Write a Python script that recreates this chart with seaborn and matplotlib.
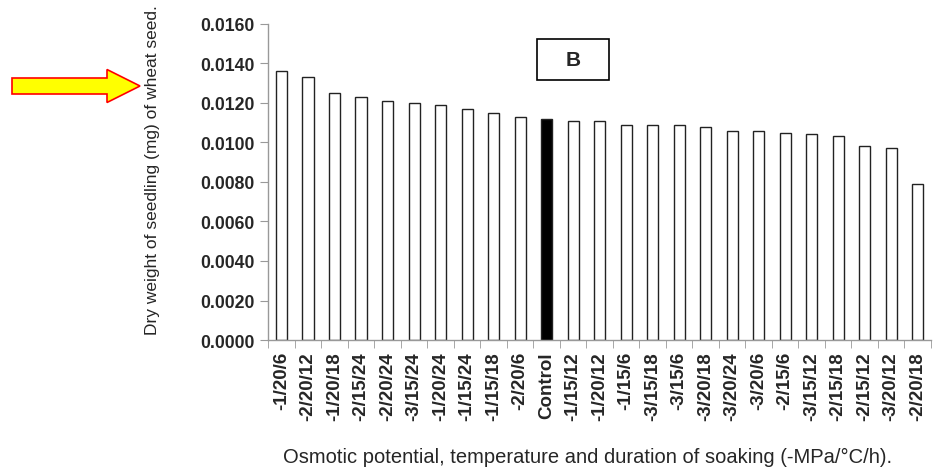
import matplotlib
matplotlib.use("Agg")
import matplotlib.pyplot as plt
import matplotlib.patches as mpatches
from matplotlib.ticker import FixedLocator
import seaborn as sns

# treatments (-MPa/°C/h) sorted by dry weight
treatments = ['-1/20/6', '-2/20/12', '-1/20/18', '-2/15/24', '-2/20/24', '-3/15/24',
              '-1/20/24', '-1/15/24', '-1/15/18', '-2/20/6', 'Control', '-1/15/12',
              '-1/20/12', '-1/15/6', '-3/15/18', '-3/15/6', '-3/20/18', '-3/20/24',
              '-3/20/6', '-2/15/6', '-3/15/12', '-2/15/18', '-2/15/12', '-3/20/12',
              '-2/20/18']
dry_weight = [0.0136, 0.0133, 0.0125, 0.0123, 0.0121, 0.0120, 0.0119, 0.0117, 0.0115,
              0.0113, 0.0112, 0.0111, 0.0111, 0.0109, 0.0109, 0.0109, 0.0108, 0.0106,
              0.0106, 0.0105, 0.0104, 0.0103, 0.0098, 0.0097, 0.0079]
yticks = [0.0, 0.002, 0.004, 0.006, 0.008, 0.010, 0.012, 0.014, 0.016]

sns.set_style("white")
plt.rcParams['font.family'] = ['Liberation Sans', 'DejaVu Sans']

colors = {t: ('black' if t == 'Control' else 'white') for t in treatments}

fig = plt.figure(figsize=(9.48, 4.77), dpi=100)
ax = fig.add_axes([0.283, 0.285, 0.699, 0.663])

sns.barplot(x=treatments, y=dry_weight, hue=treatments, palette=colors, legend=False,
            edgecolor='#222222', linewidth=1, width=0.42, ax=ax)

ax.set_xlim(-0.5, len(treatments) - 0.5)
ax.set_ylim(0, 0.016)
ax.set_yticks(yticks)
ax.set_yticklabels(['%.4f' % v for v in yticks], fontsize=12.7, fontweight='bold')
ax.set_xticks(range(len(treatments)))
ax.set_xticklabels(treatments, rotation=90, fontsize=13.5, fontweight='bold')
ax.xaxis.set_minor_locator(FixedLocator([i - 0.5 for i in range(len(treatments) + 1)]))
ax.tick_params(axis='x', which='major', length=0, pad=8)
ax.tick_params(axis='x', which='minor', length=6, color='#999999', direction='out', bottom=True)
ax.tick_params(axis='y', length=6, color='#999999', direction='out', left=True, pad=4)

for s in ['top', 'right']:
    ax.spines[s].set_visible(False)
for s in ['left', 'bottom']:
    ax.spines[s].set_color('#999999')
    ax.spines[s].set_linewidth(1)

ax.set_xlabel('')
ax.set_ylabel('')
fig.text(588 / 948, 1 - 457 / 477, 'Osmotic potential, temperature and duration of soaking (-MPa/°C/h).',
         ha='center', va='center', fontsize=14.5)
fig.text(153 / 948, 1 - 170 / 477, 'Dry weight of seedling (mg) of wheat seed.',
         rotation=90, ha='center', va='center', fontsize=12.5)

# panel label box
fig.patches.append(mpatches.Rectangle((537 / 948, 1 - 81 / 477), 72 / 948, 41 / 477,
                                      transform=fig.transFigure, facecolor='white',
                                      edgecolor='black', linewidth=1.2))
fig.text(573 / 948, 1 - 61 / 477, 'B', ha='center', va='center', fontsize=15, fontweight='bold')

# yellow arrow pointing at the axis title
arrow = mpatches.FancyArrow(12 / 948, 1 - 87 / 477, 128 / 948, 0, width=16 / 477,
                            head_width=33 / 477, head_length=33 / 948,
                            length_includes_head=True, transform=fig.transFigure,
                            facecolor='#ffff00', edgecolor='red', linewidth=1.2)
fig.patches.append(arrow)

fig.savefig('out.png', dpi=100)
